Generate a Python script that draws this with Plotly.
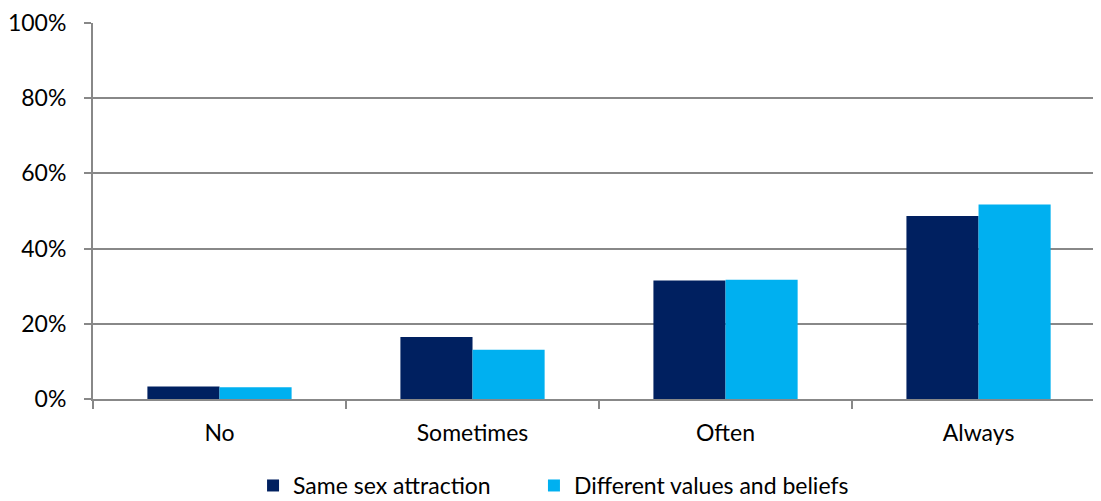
import plotly.graph_objects as go

categories = ['No', 'Sometimes', 'Often', 'Always']
same_sex = [3.3, 16.5, 31.5, 48.7]
diff_values = [3.1, 13.1, 31.7, 51.7]
y_ticks = [0, 20, 40, 60, 80, 100]
y_labels = ['0%', '20%', '40%', '60%', '80%', '100%']

FONT = 'Lato, Open Sans, sans-serif'
GRID = 'rgb(136,136,136)'

fig = go.Figure()
fig.add_trace(go.Bar(x=categories, y=same_sex, name='Same sex attraction',
                     marker=dict(color='#002060', line=dict(width=0)),
                     legend='legend'))
fig.add_trace(go.Bar(x=categories, y=diff_values, name='Different values and beliefs',
                     marker=dict(color='#00B0F0', line=dict(width=0)),
                     legend='legend2'))

# two legends so each entry can be placed like the original
leg = dict(orientation='h', xref='container', yref='container',
           xanchor='left', yanchor='top', y=0.075,
           font=dict(size=23), itemwidth=30, bgcolor='rgba(0,0,0,0)')

# page body has an 8px margin, so the figure is sized to fit inside the window
fig.update_layout(
    width=1093, height=493,
    margin=dict(l=85, r=0, t=12, b=102),
    plot_bgcolor='white', paper_bgcolor='white',
    barmode='group', bargap=0.43, bargroupgap=0,
    font=dict(family=FONT, size=23, color='black'),
    showlegend=True,
    legend=dict(leg, x=0.2242),
    legend2=dict(leg, x=0.4812),
)
fig.update_xaxes(
    range=[-0.5, 3.484],
    showline=True, linecolor=GRID, linewidth=2,
    ticks='outside', tickson='boundaries', ticklen=8, tickwidth=2, tickcolor=GRID,
    showgrid=False, tickfont=dict(size=23), ticklabelstandoff=12,
)
fig.update_yaxes(
    range=[0, 100], tickvals=y_ticks, ticktext=y_labels,
    showline=True, linecolor=GRID, linewidth=2,
    ticks='outside', ticklen=7, tickwidth=2, tickcolor=GRID,
    showgrid=True, gridcolor=GRID, gridwidth=2,
    zeroline=False, tickfont=dict(size=23), ticklabelstandoff=13,
    ticklabeloverflow='allow',
)

fig.write_html('out.html')
